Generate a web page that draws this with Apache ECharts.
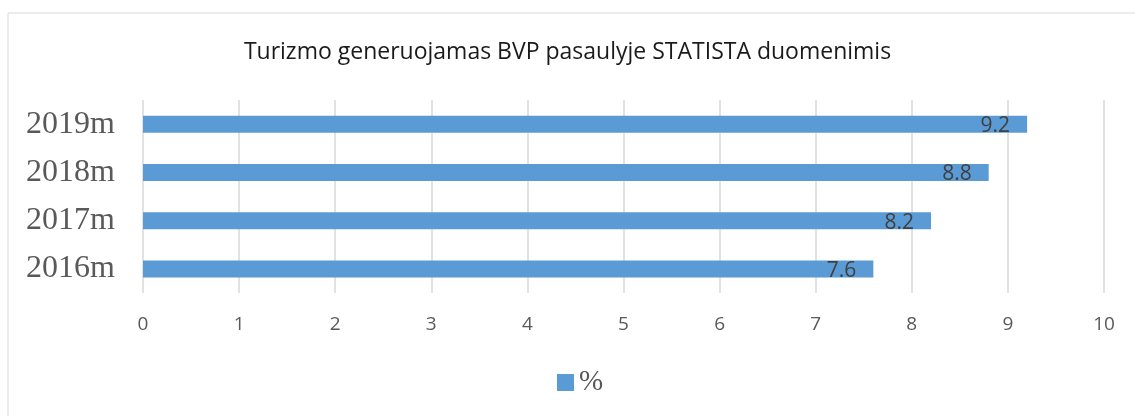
<!DOCTYPE html>
<html>
<head>
<meta charset="utf-8">
<script src="https://cdn.jsdelivr.net/npm/echarts@6/dist/echarts.min.js"></script>
<style>
  html, body { margin: 0; padding: 0; background: #fff; }
  #chart { width: 1135px; height: 416px; }
</style>
</head>
<body>
<div id="chart"></div>
<script>
// data
var years = ['2016m', '2017m', '2018m', '2019m'];
var values = [7.6, 8.2, 8.8, 9.2];
var seriesName = '%';

var myChart = echarts.init(document.getElementById('chart'));

myChart.setOption({
  animation: false,
  title: {
    text: 'Turizmo generuojamas BVP pasaulyje STATISTA duomenimis',
    left: 'center',
    top: 36,
    textStyle: { fontFamily: 'Open Sans', fontSize: 23, fontWeight: 'normal', color: '#1a1a1a' }
  },
  // thin chart frame
  graphic: [{
    type: 'rect',
    shape: { x: 8, y: 13, width: 1140, height: 420 },
    style: { fill: 'none', stroke: '#d9d9d9', lineWidth: 1 }
  }],
  legend: {
    data: [seriesName],
    left: 557,
    top: 368,
    padding: 0,
    itemWidth: 17,
    itemHeight: 17,
    itemGap: 8,
    icon: 'rect',
    textStyle: { fontFamily: 'Liberation Serif', fontSize: 29, color: '#595959' }
  },
  grid: {
    left: 143,
    right: 31,
    top: 100,
    bottom: 123,
    containLabel: false
  },
  xAxis: {
    type: 'value',
    min: 0,
    max: 10,
    interval: 1,
    axisLine: { show: false },
    axisTick: { show: false },
    axisLabel: { fontFamily: 'Open Sans', fontSize: 19, color: '#595959', margin: 22 },
    splitLine: { lineStyle: { color: '#d9d9d9', width: 1.5 } }
  },
  yAxis: {
    type: 'category',
    data: years,
    axisLine: { show: false },
    axisTick: { show: false },
    axisLabel: { fontFamily: 'Liberation Serif', fontSize: 32, color: '#595959', margin: 28 }
  },
  series: [{
    name: seriesName,
    type: 'bar',
    data: values,
    barWidth: 17,
    itemStyle: { color: '#5b9bd5' },
    label: {
      show: true,
      position: 'insideRight',
      distance: 17,
      fontFamily: 'Open Sans',
      fontSize: 21,
      color: '#404040',
      offset: [0, 2]
    }
  }]
});
</script>
</body>
</html>
